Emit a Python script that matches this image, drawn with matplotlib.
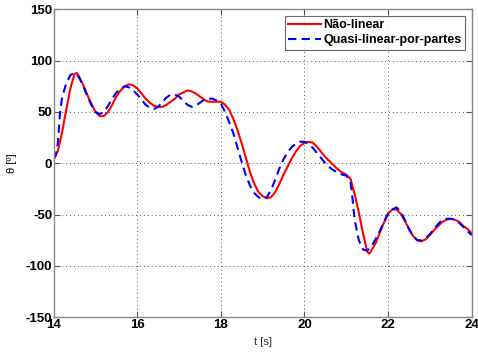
import matplotlib
matplotlib.use("Agg")
import matplotlib.pyplot as plt

t_nl = [14.0, 14.1, 14.2, 14.3, 14.4, 14.5, 14.55, 14.6, 14.7, 14.8, 14.9, 15.0, 15.1, 15.2, 15.3, 15.4, 15.5,
        15.6, 15.7, 15.8, 15.9, 16.0, 16.1, 16.2, 16.3, 16.4, 16.5, 16.6, 16.7, 16.8, 16.9, 17.0, 17.1, 17.2,
        17.3, 17.4, 17.5, 17.6, 17.7, 17.8, 17.9, 18.0, 18.1, 18.2, 18.3, 18.4, 18.5, 18.6, 18.7, 18.8, 18.9,
        19.0, 19.1, 19.2, 19.3, 19.4, 19.5, 19.6, 19.7, 19.8, 19.9, 20.0, 20.1, 20.2, 20.3, 20.4, 20.5, 20.6,
        20.7, 20.8, 20.9, 21.0, 21.1, 21.2, 21.3, 21.4, 21.5, 21.55, 21.6, 21.7, 21.8, 21.9, 22.0, 22.1, 22.2,
        22.3, 22.4, 22.5, 22.6, 22.7, 22.8, 22.9, 23.0, 23.1, 23.2, 23.3, 23.4, 23.5, 23.6, 23.7, 23.8, 23.9, 24.0]
theta_nl = [4, 12, 30, 52, 73, 87, 88, 85, 77, 67, 58, 50, 46, 46, 50, 57, 65,
            71, 75, 77, 76, 73, 68, 63, 59, 56, 55, 55, 57, 60, 63, 67, 69, 71,
            70, 68, 65, 62, 60, 60, 60, 60, 57, 52, 43, 32, 19, 5, -9, -20, -28,
            -32, -34, -33, -28, -20, -11, -3, 5, 12, 17, 20, 21, 20, 16, 11, 6, 2,
            -2, -6, -9, -11, -15, -30, -48, -68, -86, -88, -85, -78, -68, -58, -49, -45, -45,
            -49, -56, -64, -71, -75, -76, -74, -70, -65, -61, -57, -55, -54, -55, -57, -61, -64, -68]

t_ql = [14.0, 14.05, 14.1, 14.15, 14.2, 14.3, 14.4, 14.5, 14.6, 14.7, 14.8, 14.9, 15.0, 15.1, 15.2, 15.3,
        15.4, 15.5, 15.6, 15.7, 15.8, 15.9, 16.0, 16.1, 16.2, 16.3, 16.4, 16.5, 16.6, 16.7, 16.8, 16.9, 17.0,
        17.1, 17.2, 17.3, 17.4, 17.5, 17.6, 17.7, 17.8, 17.9, 18.0, 18.1, 18.2, 18.3, 18.4, 18.5, 18.6, 18.7,
        18.8, 18.9, 19.0, 19.1, 19.2, 19.3, 19.4, 19.5, 19.6, 19.7, 19.8, 19.9, 20.0, 20.1, 20.2, 20.3, 20.4,
        20.5, 20.6, 20.7, 20.8, 20.9, 21.0, 21.1, 21.15, 21.2, 21.3, 21.4, 21.5, 21.6, 21.7, 21.8, 21.9, 22.0,
        22.1, 22.2, 22.3, 22.4, 22.5, 22.6, 22.7, 22.8, 22.9, 23.0, 23.1, 23.2, 23.3, 23.4, 23.5, 23.6, 23.7,
        23.8, 23.9, 24.0]
theta_ql = [4, 8, 20, 48, 64, 78, 86, 88, 84, 76, 66, 57, 50, 48, 50, 56,
            63, 69, 73, 75, 74, 71, 67, 62, 57, 54, 53, 55, 60, 64, 67, 67, 65,
            61, 57, 55, 56, 59, 62, 63, 63, 61, 58, 50, 40, 29, 15, 1, -12, -22,
            -29, -33, -35, -33, -26, -16, -5, 4, 11, 16, 19, 21, 21, 19, 15, 10, 5,
            0, -4, -7, -9, -11, -12, -18, -35, -55, -75, -84, -85, -81, -74, -66, -57, -49,
            -45, -43, -47, -55, -64, -71, -75, -75, -73, -69, -64, -59, -55, -54, -54, -55, -58,
            -62, -66, -70]

x_ticks = [14, 16, 18, 20, 22, 24]
y_ticks = [-150, -100, -50, 0, 50, 100, 150]
labels = ["Não-linear", "Quasi-linear-por-partes"]

plt.rcParams['font.family'] = ['Liberation Sans', 'DejaVu Sans']
plt.rcParams['axes.unicode_minus'] = False

fig = plt.figure(figsize=(4.78, 3.54), dpi=100)
ax = fig.add_axes([0.1123, 0.1037, 0.8745, 0.8700])

ax.plot(t_nl, theta_nl, color='#ff0000', lw=1.5, label=labels[0])
ax.plot(t_ql, theta_ql, color='#0000ff', lw=1.5, ls=(0, (4, 2.5)), label=labels[1])

ax.set_xlim(14, 24)
ax.set_ylim(-150, 150)
ax.set_xticks(x_ticks)
ax.set_yticks(y_ticks)
ax.tick_params(direction='in', top=True, right=True, length=4, width=0.8, color='#555555',
               labelsize=9.5)
ax.tick_params(axis='x', pad=1.5)
ax.tick_params(axis='y', pad=1)
for lab in ax.get_xticklabels() + ax.get_yticklabels():
    lab.set_fontweight('bold')
for s in ax.spines.values():
    s.set_color('#888888')
    s.set_linewidth(1.0)
ax.grid(True, ls=(0, (1, 3)), color='#555555', lw=0.7)

ax.set_xlabel('t [s]', fontsize=8, color='#333333')
ax.xaxis.set_label_coords(0.5, -0.065)
ax.set_ylabel('θ [º]', fontsize=8)
ax.yaxis.set_label_coords(-0.088, 0.5)

leg = ax.legend(loc='upper right', fontsize=9, frameon=True, fancybox=False, edgecolor='#444444',
                borderpad=0.3, handlelength=2.6, handletextpad=0.2, labelspacing=0.25,
                borderaxespad=0.5, prop={'weight': 'bold', 'size': 9})
leg.get_frame().set_linewidth(0.8)

fig.savefig('out.png', dpi=100)
